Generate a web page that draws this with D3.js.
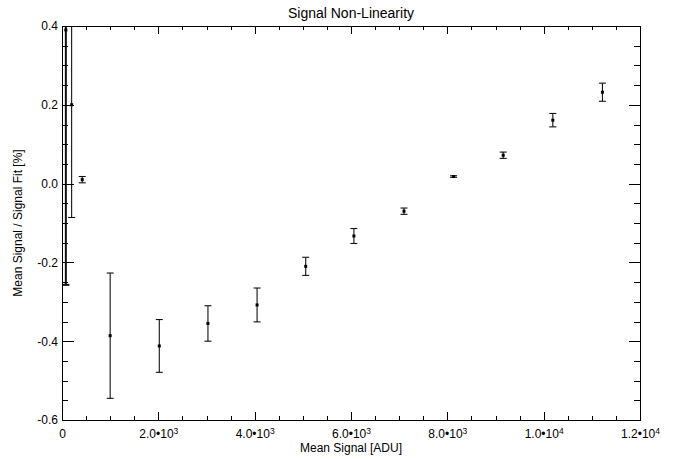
<!DOCTYPE html>
<html>
<head>
<meta charset="utf-8">
<script src="https://cdn.jsdelivr.net/npm/d3@7"></script>
<style>
  body { margin: 0; background: #fff; }
  svg text { font-family: "Liberation Sans", Arial, sans-serif; fill: #000; }
  .axis path, .axis line { stroke: #000; shape-rendering: crispEdges; }
</style>
</head>
<body>
<div id="chart"></div>
<script>
// Mean signal [ADU]
var meanSignal = [80, 200, 420, 1000, 2020, 3030, 4050, 5060, 6060, 7100, 8130, 9160, 10190, 11220];
// Mean signal / signal fit [%]
var ratio = [0.39, 0.20, 0.010, -0.386, -0.412, -0.355, -0.308, -0.210, -0.133, -0.070, 0.018, 0.072, 0.161, 0.232];
// 1-sigma error
var ratioErr = [0.647, 0.286, 0.008, 0.159, 0.067, 0.045, 0.043, 0.023, 0.019, 0.008, 0.002, 0.008, 0.017, 0.023];

var xTicks = [0, 2000, 4000, 6000, 8000, 10000, 12000];
var xTickLabels = [["0", ""], ["2.0\u202210", "3"], ["4.0\u202210", "3"], ["6.0\u202210", "3"],
                   ["8.0\u202210", "3"], ["1.0\u202210", "4"], ["1.2\u202210", "4"]];
var yTicks = [-0.6, -0.4, -0.2, 0.0, 0.2, 0.4];
var yTickLabels = ["-0.6", "-0.4", "-0.2", "0.0", "0.2", "0.4"];

var W = 681, H = 459,
    margin = {top: 26, right: 41, bottom: 39, left: 62},
    width = W - margin.left - margin.right,
    height = H - margin.top - margin.bottom;

var x = d3.scaleLinear().domain([0, 12000]).range([0, width]);
var y = d3.scaleLinear().domain([-0.6, 0.4]).range([height, 0]);

var xMinor = d3.range(0, 12001, 500);
var yMinor = d3.range(-12, 9).map(function(i) { return i * 0.05; });

var svg = d3.select("#chart").append("svg")
    .attr("width", W)
    .attr("height", H);

var g = svg.append("g")
    .attr("transform", "translate(" + margin.left + "," + margin.top + ")");

g.append("clipPath").attr("id", "clip")
  .append("rect").attr("width", width).attr("height", height);

// error bars and points
var pts = meanSignal.map(function(d, i) { return {x: d, y: ratio[i], e: ratioErr[i]}; });
var plot = g.append("g").attr("clip-path", "url(#clip)");

var bars = plot.selectAll(".err").data(pts).enter().append("g")
    .attr("class", "err")
    .attr("stroke", "#111")
    .attr("stroke-width", function(d) { return d.e > 0.5 ? 2 : 1.1; });

bars.append("line")
    .attr("x1", function(d) { return x(d.x); })
    .attr("x2", function(d) { return x(d.x); })
    .attr("y1", function(d) { return y(d.y - d.e); })
    .attr("y2", function(d) { return y(d.y + d.e); });
bars.append("line")
    .attr("x1", function(d) { return x(d.x) - 3.5; })
    .attr("x2", function(d) { return x(d.x) + 3.5; })
    .attr("y1", function(d) { return y(d.y - d.e); })
    .attr("y2", function(d) { return y(d.y - d.e); });
bars.append("line")
    .attr("x1", function(d) { return x(d.x) - 3.5; })
    .attr("x2", function(d) { return x(d.x) + 3.5; })
    .attr("y1", function(d) { return y(d.y + d.e); })
    .attr("y2", function(d) { return y(d.y + d.e); });

plot.selectAll(".pt").data(pts).enter().append("rect")
    .attr("class", "pt")
    .attr("x", function(d) { return x(d.x) - 1.5; })
    .attr("y", function(d) { return y(d.y) - 1.5; })
    .attr("width", 3)
    .attr("height", 3)
    .attr("fill", "#000");

// axes: major + minor ticks on all four sides, pointing inwards
function addAxis(axis, transform) {
  return g.append("g").attr("class", "axis").attr("transform", transform).call(axis);
}
var xb = addAxis(d3.axisBottom(x).tickValues(xTicks).tickSizeInner(-8).tickSizeOuter(0).tickPadding(9), "translate(0," + height + ")");
addAxis(d3.axisBottom(x).tickValues(xMinor).tickSizeInner(-4).tickSizeOuter(0).tickFormat(""), "translate(0," + height + ")");
addAxis(d3.axisTop(x).tickValues(xTicks).tickSizeInner(-8).tickSizeOuter(0).tickFormat(""), "translate(0,0)");
addAxis(d3.axisTop(x).tickValues(xMinor).tickSizeInner(-4).tickSizeOuter(0).tickFormat(""), "translate(0,0)");
var yl = addAxis(d3.axisLeft(y).tickValues(yTicks).tickSizeInner(-11.5).tickSizeOuter(0).tickPadding(4)
    .tickFormat(function(d, i) { return yTickLabels[i]; }), "translate(0,0)");
addAxis(d3.axisLeft(y).tickValues(yMinor).tickSizeInner(-5.8).tickSizeOuter(0).tickFormat(""), "translate(0,0)");
addAxis(d3.axisRight(y).tickValues(yTicks).tickSizeInner(-11.5).tickSizeOuter(0).tickFormat(""), "translate(" + width + ",0)");
addAxis(d3.axisRight(y).tickValues(yMinor).tickSizeInner(-5.8).tickSizeOuter(0).tickFormat(""), "translate(" + width + ",0)");

yl.selectAll(".tick text").style("font-size", "12px");

// x tick labels with superscript exponents
xb.selectAll(".tick text").each(function(d, i) {
  var t = d3.select(this).text(null).style("font-size", "12px");
  t.append("tspan").text(xTickLabels[i][0]);
  if (xTickLabels[i][1]) {
    t.append("tspan").attr("dy", "-0.45em").style("font-size", "8.5px").text(xTickLabels[i][1]);
  }
});

// title and axis titles
svg.append("text")
    .attr("x", margin.left + width / 2)
    .attr("y", 18)
    .attr("text-anchor", "middle")
    .style("font-size", "14px")
    .text("Signal Non-Linearity");

svg.append("text")
    .attr("x", margin.left + width / 2)
    .attr("y", 452)
    .attr("text-anchor", "middle")
    .style("font-size", "12px")
    .text("Mean Signal [ADU]");

svg.append("text")
    .attr("transform", "translate(22," + (margin.top + height / 2) + ") rotate(-90)")
    .attr("text-anchor", "middle")
    .style("font-size", "12px")
    .text("Mean Signal / Signal Fit [%]");
</script>
</body>
</html>
